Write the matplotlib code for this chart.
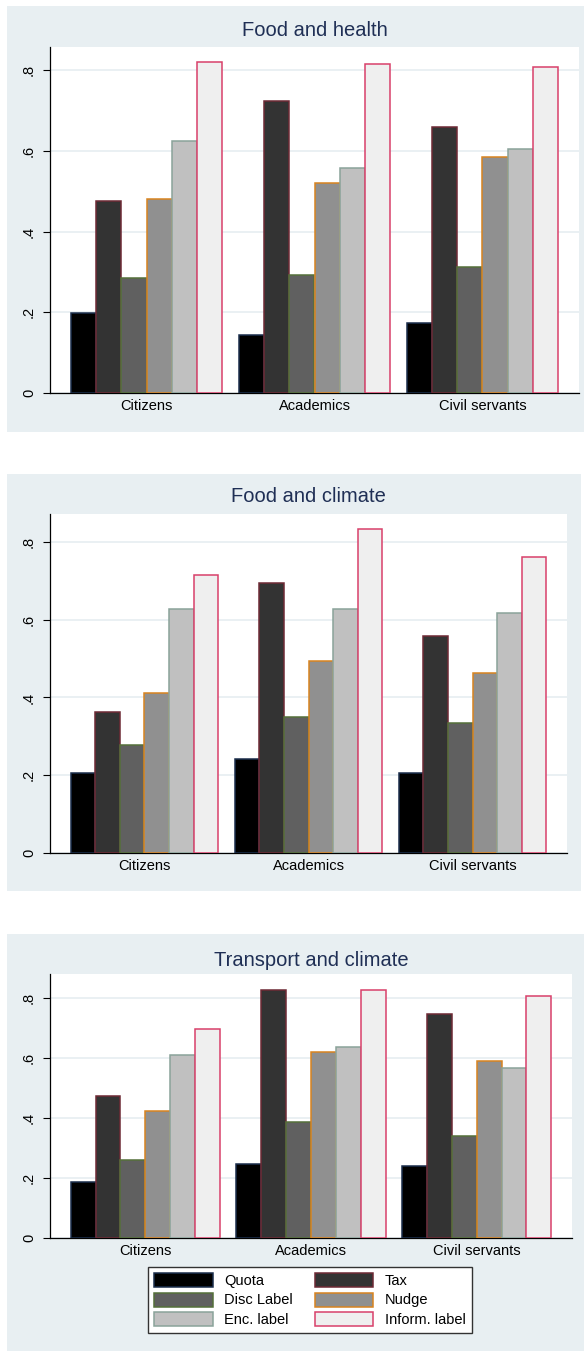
import numpy as np
import matplotlib
matplotlib.use("Agg")
import matplotlib.pyplot as plt
import matplotlib.patches as patches

plt.rcParams['font.family'] = ['Liberation Sans', 'DejaVu Sans']

groups = ["Citizens", "Academics", "Civil servants"]
series = ["Quota", "Tax", "Disc Label", "Nudge", "Enc. label", "Inform. label"]

# shares per series, one entry per group (Citizens, Academics, Civil servants)
health = {
    "Quota":         [0.198, 0.143, 0.174],
    "Tax":           [0.476, 0.725, 0.660],
    "Disc Label":    [0.285, 0.292, 0.312],
    "Nudge":         [0.482, 0.520, 0.586],
    "Enc. label":    [0.624, 0.557, 0.606],
    "Inform. label": [0.821, 0.816, 0.809],
}
food_climate = {
    "Quota":         [0.206, 0.242, 0.206],
    "Tax":           [0.362, 0.695, 0.558],
    "Disc Label":    [0.277, 0.350, 0.334],
    "Nudge":         [0.411, 0.495, 0.462],
    "Enc. label":    [0.627, 0.627, 0.617],
    "Inform. label": [0.716, 0.833, 0.762],
}
transport = {
    "Quota":         [0.187, 0.247, 0.240],
    "Tax":           [0.474, 0.828, 0.748],
    "Disc Label":    [0.260, 0.388, 0.340],
    "Nudge":         [0.424, 0.621, 0.589],
    "Enc. label":    [0.611, 0.638, 0.567],
    "Inform. label": [0.696, 0.828, 0.808],
}

fills = ["#000000", "#333333", "#606060", "#909090", "#c0c0c0", "#efefef"]
edges = ["#1b2e4c", "#6e2a35", "#55703a", "#d9841f", "#8aa39a", "#d8406a"]

BG = "#e8eff2"
GRID = "#e6eef1"
TITLE = "#1f2f55"

W, H = 584, 1351
fig = plt.figure(figsize=(W / 100, H / 100), dpi=100)
fig.patch.set_facecolor("white")

# (title, data, bg box, plot box, title y, ymax) -- boxes in pixels (x0, y0, x1, y1), y from top
panels = [
    ("Food and health", health, (7, 6, 584, 432), (50, 47, 579, 393), 30, 0.858),
    ("Food and climate", food_climate, (7, 474, 581, 891), (50, 514, 567, 853), 497, 0.872),
    ("Transport and climate", transport, (7, 934, 584, 1351), (50, 974, 572, 1238), 961, 0.880),
]

def fig_rect(x0, y0, x1, y1):
    return [x0 / W, 1 - y1 / H, (x1 - x0) / W, (y1 - y0) / H]

x = np.arange(len(groups))
bw = 0.15

for title, data, bg, box, ty, ymax in panels:
    l, b, w, h = fig_rect(*bg)
    fig.patches.append(patches.Rectangle((l, b), w, h, transform=fig.transFigure,
                                         facecolor=BG, edgecolor="none", zorder=-5))
    ax = fig.add_axes(fig_rect(*box))
    ax.set_facecolor("white")
    for i, s in enumerate(series):
        ax.bar(x + (i - 2.5) * bw, data[s], width=bw, color=fills[i],
               edgecolor=edges[i], linewidth=1.1, zorder=3)
    ax.set_xlim(-0.575, 2.575)
    ax.set_ylim(0, ymax)
    ax.set_yticks([0, 0.2, 0.4, 0.6, 0.8])
    ax.set_yticklabels(["0", ".2", ".4", ".6", ".8"], rotation=90, va="center", fontsize=10.5)
    ax.set_xticks(x)
    ax.set_xticklabels(groups, fontsize=10.5)
    ax.tick_params(axis="x", length=0, pad=4)
    ax.tick_params(axis="y", length=5, width=0.8, pad=5)
    ax.yaxis.grid(True, color=GRID, linewidth=1.2, zorder=0)
    ax.set_axisbelow(True)
    for sp in ["top", "right"]:
        ax.spines[sp].set_visible(False)
    ax.spines["left"].set_linewidth(0.9)
    ax.spines["bottom"].set_linewidth(0.9)
    fig.text((box[0] + box[2]) / 2 / W, 1 - ty / H, title, ha="center", va="center",
             fontsize=14.5, color=TITLE)

# legend in the last panel, filled row by row
handles = [patches.Patch(facecolor=fills[i], edgecolor=edges[i], linewidth=1.1, label=s)
           for i, s in enumerate(series)]
order = [0, 2, 4, 1, 3, 5]
leg = fig.legend(handles=[handles[i] for i in order], labels=[series[i] for i in order],
                 ncol=2, loc="center", bbox_to_anchor=(310 / W, 1 - 1300 / H),
                 fontsize=10.5, frameon=True, fancybox=False, edgecolor="#333333",
                 facecolor="white", framealpha=1,
                 handlelength=4.0, handleheight=1.1, columnspacing=1.5,
                 labelspacing=0.3, borderpad=0.4, handletextpad=0.8)
leg.get_frame().set_linewidth(1.0)

fig.savefig("out.png", dpi=100, facecolor="white")
